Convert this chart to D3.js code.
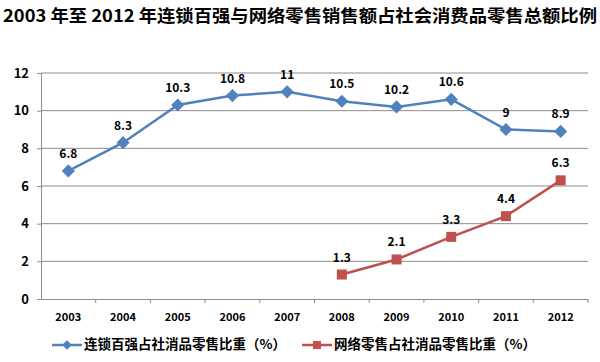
<!DOCTYPE html>
<html>
<head>
<meta charset="utf-8">
<script src="https://cdn.jsdelivr.net/npm/d3@7"></script>
<style>
  body { margin: 0; background: white; }
  text { font-family: "Noto Sans CJK SC", "Liberation Sans", sans-serif; }
</style>
</head>
<body>
<div id="chart"></div>
<script>
// chart data
const years = ["2003", "2004", "2005", "2006", "2007", "2008", "2009", "2010", "2011", "2012"]
const chainTop100 = [6.8, 8.3, 10.3, 10.8, 11, 10.5, 10.2, 10.6, 9, 8.9]
const onlineYears = ["2008", "2009", "2010", "2011", "2012"]
const onlineRetail = [1.3, 2.1, 3.3, 4.4, 6.3]
const yTicks = [0, 2, 4, 6, 8, 10, 12]
const seriesNames = ["连锁百强占社消品零售比重（%）", "网络零售占社消品零售比重（%）"]
const chartTitle = "2003 年至 2012 年连锁百强与网络零售销售额占社会消费品零售总额比例"

const width = 600, height = 362
const margin = { top: 73, left: 41, right: 12, bottom: 63 }
const blue = "#4F81BD", red = "#C0504D"

let svg = d3.select('#chart')
  .append('svg')
  .attr('width', width)
  .attr('height', height)
  .style('background-color', 'white')

let x = d3.scaleBand()
  .domain(years)
  .range([margin.left, width - margin.right])

let y = d3.scaleLinear()
  .domain([0, 12])
  .range([height - margin.bottom, margin.top])

// title
svg.append("text")
  .attr("x", 3)
  .attr("y", 22)
  .text(chartTitle)
  .style("font-size", "17px")
  .attr("font-weight", "bold")
  .attr("textLength", 594)
  .attr("lengthAdjust", "spacingAndGlyphs")
  .style("fill", "#000")

// gridlines
svg.append("g")
  .selectAll("line")
  .data(yTicks.filter(d => d > 0))
  .join("line")
  .attr("x1", margin.left)
  .attr("x2", width - margin.right)
  .attr("y1", d => y(d))
  .attr("y2", d => y(d))
  .style("stroke", "#8c8c8c")
  .style("stroke-width", 1)

// y axis
let yAxis = svg.append("g")
  .attr("transform", `translate(${margin.left},0)`)
  .call(d3.axisLeft(y).tickValues(yTicks).tickSize(4).tickPadding(8))
yAxis.select(".domain").style("stroke", "#8c8c8c")
yAxis.selectAll(".tick line").style("stroke", "#8c8c8c")
yAxis.selectAll("text")
  .style("font-size", "13px")
  .style("fill", "#000")
  .attr("font-weight", "bold")

// x axis
let xAxis = svg.append("g")
  .attr("transform", `translate(0,${height - margin.bottom})`)
  .call(d3.axisBottom(x).tickSize(0).tickPadding(14))
xAxis.select(".domain").style("stroke", "#8c8c8c")
xAxis.selectAll("text")
  .style("font-size", "11px")
  .style("fill", "#000")
  .attr("font-weight", "bold")

// x tick marks at category boundaries
svg.append("g")
  .selectAll("line")
  .data(years)
  .join("line")
  .attr("x1", d => x(d) + x.bandwidth())
  .attr("x2", d => x(d) + x.bandwidth())
  .attr("y1", height - margin.bottom)
  .attr("y2", height - margin.bottom + 4)
  .style("stroke", "#8c8c8c")

let line = d3.line()
  .x(d => x(d[0]) + x.bandwidth() / 2)
  .y(d => y(d[1]))

const chainData = years.map((yr, i) => [yr, chainTop100[i]])
const onlineData = onlineYears.map((yr, i) => [yr, onlineRetail[i]])

// blue line
svg.append("path")
  .datum(chainData)
  .attr("d", line)
  .style("fill", "none")
  .style("stroke", blue)
  .style("stroke-width", 2.5)

svg.append("g")
  .selectAll("path")
  .data(chainData)
  .join("path")
  .attr("d", d3.symbol().type(d3.symbolDiamond2).size(110))
  .attr("transform", d => `translate(${x(d[0]) + x.bandwidth() / 2},${y(d[1])})`)
  .style("fill", blue)

svg.append("g")
  .selectAll("text")
  .data(chainData)
  .join("text")
  .attr("x", d => x(d[0]) + x.bandwidth() / 2)
  .attr("y", d => y(d[1]) - 13)
  .text(d => d[1])
  .style("font-size", "12px")
  .attr("font-weight", "bold")
  .style("text-anchor", "middle")

// red line
svg.append("path")
  .datum(onlineData)
  .attr("d", line)
  .style("fill", "none")
  .style("stroke", red)
  .style("stroke-width", 2.5)

svg.append("g")
  .selectAll("rect")
  .data(onlineData)
  .join("rect")
  .attr("x", d => x(d[0]) + x.bandwidth() / 2 - 5)
  .attr("y", d => y(d[1]) - 5)
  .attr("width", 10)
  .attr("height", 10)
  .style("fill", red)

svg.append("g")
  .selectAll("text")
  .data(onlineData)
  .join("text")
  .attr("x", d => x(d[0]) + x.bandwidth() / 2)
  .attr("y", d => y(d[1]) - 13)
  .text(d => d[1])
  .style("font-size", "12px")
  .attr("font-weight", "bold")
  .style("text-anchor", "middle")

// legend
const legend_y = 345
const legend_x = [52, 302]
const colors = [blue, red]

seriesNames.forEach((name, i) => {
  svg.append("line")
    .attr("x1", legend_x[i])
    .attr("x2", legend_x[i] + 30)
    .attr("y1", legend_y)
    .attr("y2", legend_y)
    .style("stroke", colors[i])
    .style("stroke-width", 2.5)
  if (i === 0) {
    svg.append("path")
      .attr("d", d3.symbol().type(d3.symbolDiamond2).size(60))
      .attr("transform", `translate(${legend_x[i] + 15},${legend_y})`)
      .style("fill", colors[i])
  } else {
    svg.append("rect")
      .attr("x", legend_x[i] + 11)
      .attr("y", legend_y - 4)
      .attr("width", 8)
      .attr("height", 8)
      .style("fill", colors[i])
  }
  svg.append("text")
    .attr("x", legend_x[i] + 32)
    .attr("y", legend_y)
    .text(name)
    .style("font-size", "13.5px")
    .attr("font-weight", "bold")
    .attr("dominant-baseline", "middle")
})
</script>
</body>
</html>
